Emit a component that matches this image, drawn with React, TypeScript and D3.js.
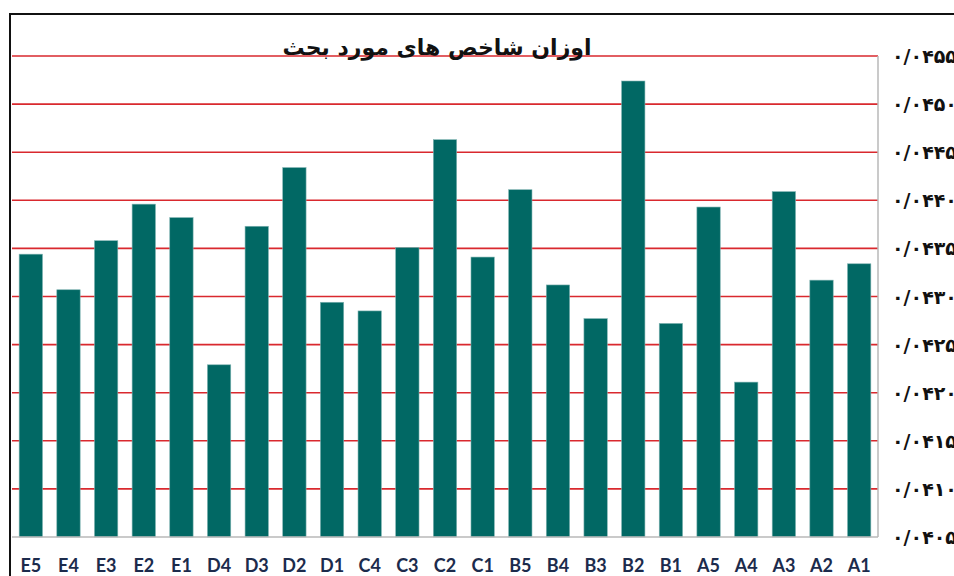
import * as d3 from "d3";

const W = 954;
const H = 576;
const PLOT = { left: 12, right: 878, top: 56, bottom: 537 };

// order as read right-to-left on the chart (A1 sits at the right edge)
const categories = [
  "A1", "A2", "A3", "A4", "A5",
  "B1", "B2", "B3", "B4", "B5",
  "C1", "C2", "C3", "C4",
  "D1", "D2", "D3", "D4",
  "E1", "E2", "E3", "E4", "E5",
];

const weights = [
  0.04334, 0.04317, 0.04409, 0.04211, 0.04393,
  0.04272, 0.04524, 0.04277, 0.04312, 0.04411,
  0.04341, 0.04463, 0.04351, 0.04285,
  0.04294, 0.04434, 0.04373, 0.04229,
  0.04382, 0.04396, 0.04358, 0.04307, 0.04344,
];

const yTicks = [0.0405, 0.041, 0.0415, 0.042, 0.0425, 0.043, 0.0435, 0.044, 0.0445, 0.045, 0.0455];

const title = "اوزان شاخص های مورد بحث";

const BAR = "#016864";
const GRID = "#d9292e";

// 0.0455 -> "۰/۰۴۵۵"
const faDigits = "۰۱۲۳۴۵۶۷۸۹";
function toFa(v: number): string {
  return v
    .toFixed(4)
    .replace(".", "/")
    .replace(/[0-9]/g, (d) => faDigits[+d]);
}

export default function App() {
  const x = d3
    .scaleBand<string>()
    .domain(categories)
    .range([PLOT.right, PLOT.left])
    .paddingInner(0.38)
    .paddingOuter(0.19);
  const y = d3.scaleLinear().domain([0.0405, 0.0455]).range([PLOT.bottom, PLOT.top]);

  return (
    <svg
      width={W}
      height={H}
      style={{ position: "absolute", left: 0, top: 0, background: "#fff" }}
    >
      {/* frame */}
      <line x1={9} y1={14} x2={W} y2={14} stroke="#111" strokeWidth={2} />
      <line x1={10} y1={14} x2={10} y2={H} stroke="#111" strokeWidth={2} />

      {/* gridlines */}
      {yTicks.slice(1).map((t) => (
        <line
          key={`g-${t}`}
          x1={PLOT.left}
          x2={PLOT.right}
          y1={y(t)}
          y2={y(t)}
          stroke={GRID}
          strokeWidth={1.6}
        />
      ))}

      {/* title */}
      <text
        x={437}
        y={55}
        textAnchor="middle"
        fontFamily="'DejaVu Sans', 'Noto Sans', sans-serif"
        fontWeight="bold"
        fontSize={22}
        fill="#111"
      >
        {title}
      </text>

      {/* bars */}
      {categories.map((c, i) => (
        <rect
          key={c}
          x={x(c)}
          y={y(weights[i])}
          width={x.bandwidth()}
          height={PLOT.bottom - y(weights[i])}
          fill={BAR}
          stroke="#7fb3b1"
          strokeWidth={0.6}
        />
      ))}

      {/* axes */}
      <line x1={PLOT.left} x2={PLOT.right} y1={PLOT.bottom} y2={PLOT.bottom} stroke="#b8b8b8" strokeWidth={1.5} />
      <line x1={PLOT.right} x2={PLOT.right} y1={PLOT.top} y2={PLOT.bottom} stroke="#b8b8b8" strokeWidth={1.5} />

      {/* y tick labels */}
      {yTicks.map((t) => (
        <text
          key={`t-${t}`}
          x={892}
          y={y(t) + 7}
          fontFamily="'DejaVu Sans', sans-serif"
          fontWeight="bold"
          fontSize={19}
          fill="#111"
          direction="ltr"
        >
          {toFa(t)}
        </text>
      ))}

      {/* category labels */}
      {categories.map((c) => (
        <text
          key={`c-${c}`}
          x={(x(c) ?? 0) + x.bandwidth() / 2}
          y={572}
          textAnchor="middle"
          fontFamily="Lato, 'Open Sans', sans-serif"
          fontWeight="bold"
          fontSize={18}
          fill="#1c2b4c"
        >
          {c}
        </text>
      ))}
    </svg>
  );
}
